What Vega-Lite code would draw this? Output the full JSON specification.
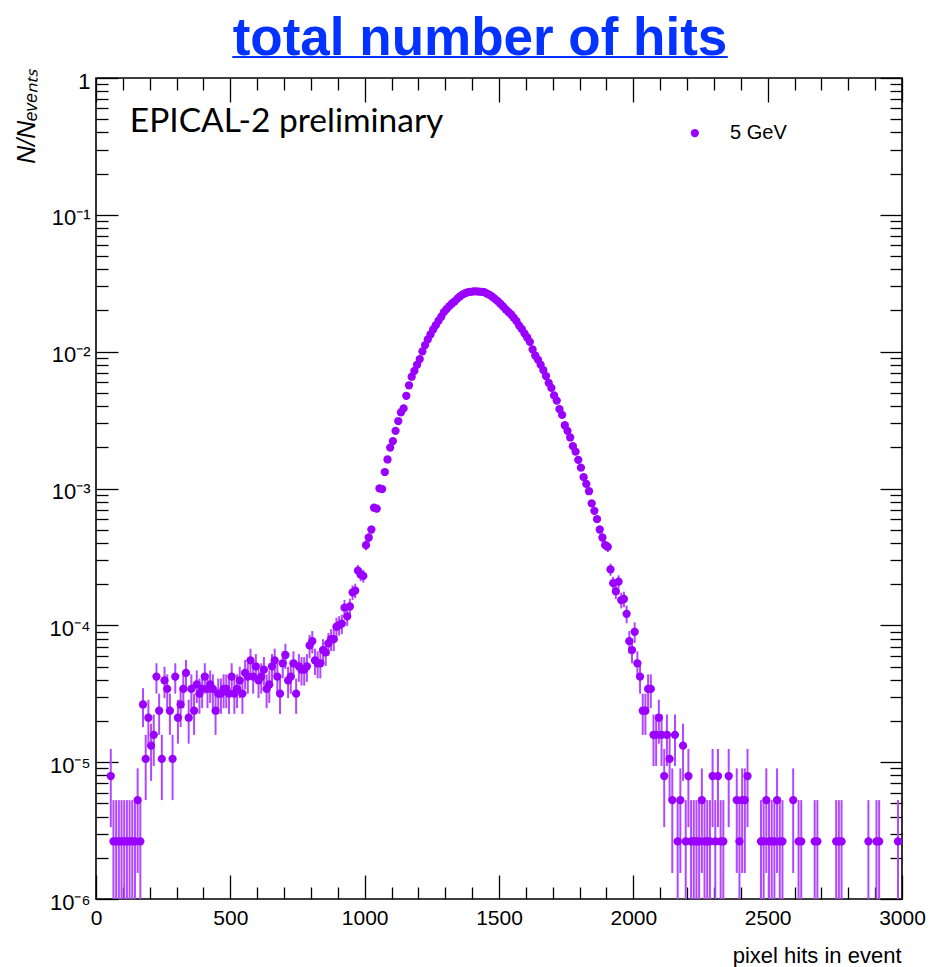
{
  "$schema": "https://vega.github.io/schema/vega-lite/v6.json",
  "width": 806,
  "height": 821,
  "autosize": "none",
  "padding": {"left": 96, "top": 78, "right": 28, "bottom": 68},
  "background": "white",
  "title": {
    "text": "total number of hits",
    "subtitle": "_________________",
    "anchor": "middle",
    "frame": "group",
    "dx": -19,
    "offset": -1,
    "font": "Liberation Sans",
    "fontSize": 53,
    "fontWeight": "bold",
    "color": "#0433ff",
    "subtitleFont": "Liberation Sans",
    "subtitleFontSize": 52.3,
    "subtitleFontWeight": "bold",
    "subtitleColor": "#0433ff",
    "subtitlePadding": -55
  },
  "config": {
    "view": {"stroke": "black", "strokeWidth": 1.6},
    "axis": {
      "grid": false,
      "domain": false,
      "tickColor": "black",
      "tickWidth": 1.3,
      "labelFont": "Liberation Sans",
      "labelFontSize": 21,
      "labelColor": "black",
      "labelFlush": false,
      "labelOverlap": false,
      "labelBound": false,
      "titleFont": "Liberation Sans",
      "titleColor": "black",
      "titleFontWeight": "normal"
    }
  },
  "data": {
    "values": [
      {"x": 55, "y": 7.92e-6, "lo": 3.35e-6, "hi": 1.249e-5},
      {"x": 65, "y": 2.64e-6, "lo": 0, "hi": 5.28e-6},
      {"x": 75, "y": 2.64e-6, "lo": 0, "hi": 5.28e-6},
      {"x": 85, "y": 2.64e-6, "lo": 0, "hi": 5.28e-6},
      {"x": 95, "y": 2.64e-6, "lo": 0, "hi": 5.28e-6},
      {"x": 105, "y": 2.64e-6, "lo": 0, "hi": 5.28e-6},
      {"x": 115, "y": 2.64e-6, "lo": 0, "hi": 5.28e-6},
      {"x": 125, "y": 2.64e-6, "lo": 0, "hi": 5.28e-6},
      {"x": 135, "y": 2.64e-6, "lo": 0, "hi": 5.28e-6},
      {"x": 145, "y": 2.64e-6, "lo": 0, "hi": 5.28e-6},
      {"x": 155, "y": 5.28e-6, "lo": 1.55e-6, "hi": 9.01e-6},
      {"x": 165, "y": 2.64e-6, "lo": 0, "hi": 5.28e-6},
      {"x": 175, "y": 2.64e-5, "lo": 1.805e-5, "hi": 3.475e-5},
      {"x": 185, "y": 1.056e-5, "lo": 5.28e-6, "hi": 1.584e-5},
      {"x": 195, "y": 2.112e-5, "lo": 1.365e-5, "hi": 2.859e-5},
      {"x": 205, "y": 1.32e-5, "lo": 7.3e-6, "hi": 1.91e-5},
      {"x": 215, "y": 1.584e-5, "lo": 9.37e-6, "hi": 2.231e-5},
      {"x": 225, "y": 4.224e-5, "lo": 3.168e-5, "hi": 5.28e-5},
      {"x": 235, "y": 2.376e-5, "lo": 1.584e-5, "hi": 3.168e-5},
      {"x": 245, "y": 1.056e-5, "lo": 5.28e-6, "hi": 1.584e-5},
      {"x": 255, "y": 3.96e-5, "lo": 2.938e-5, "hi": 4.982e-5},
      {"x": 265, "y": 3.432e-5, "lo": 2.48e-5, "hi": 4.384e-5},
      {"x": 275, "y": 2.376e-5, "lo": 1.584e-5, "hi": 3.168e-5},
      {"x": 285, "y": 1.056e-5, "lo": 5.28e-6, "hi": 1.584e-5},
      {"x": 295, "y": 4.224e-5, "lo": 3.168e-5, "hi": 5.28e-5},
      {"x": 305, "y": 2.112e-5, "lo": 1.365e-5, "hi": 2.859e-5},
      {"x": 315, "y": 2.64e-5, "lo": 1.805e-5, "hi": 3.475e-5},
      {"x": 325, "y": 3.432e-5, "lo": 2.48e-5, "hi": 4.384e-5},
      {"x": 335, "y": 4.488e-5, "lo": 3.4e-5, "hi": 5.576e-5},
      {"x": 345, "y": 2.112e-5, "lo": 1.365e-5, "hi": 2.859e-5},
      {"x": 355, "y": 3.432e-5, "lo": 2.48e-5, "hi": 4.384e-5},
      {"x": 365, "y": 2.376e-5, "lo": 1.584e-5, "hi": 3.168e-5},
      {"x": 375, "y": 3.696e-5, "lo": 2.708e-5, "hi": 4.684e-5},
      {"x": 385, "y": 3.168e-5, "lo": 2.253e-5, "hi": 4.083e-5},
      {"x": 395, "y": 3.432e-5, "lo": 2.48e-5, "hi": 4.384e-5},
      {"x": 405, "y": 4.224e-5, "lo": 3.168e-5, "hi": 5.28e-5},
      {"x": 415, "y": 3.432e-5, "lo": 2.48e-5, "hi": 4.384e-5},
      {"x": 425, "y": 3.696e-5, "lo": 2.708e-5, "hi": 4.684e-5},
      {"x": 435, "y": 3.432e-5, "lo": 2.48e-5, "hi": 4.384e-5},
      {"x": 445, "y": 2.376e-5, "lo": 1.584e-5, "hi": 3.168e-5},
      {"x": 455, "y": 3.168e-5, "lo": 2.253e-5, "hi": 4.083e-5},
      {"x": 465, "y": 3.168e-5, "lo": 2.253e-5, "hi": 4.083e-5},
      {"x": 475, "y": 3.432e-5, "lo": 2.48e-5, "hi": 4.384e-5},
      {"x": 485, "y": 3.432e-5, "lo": 2.48e-5, "hi": 4.384e-5},
      {"x": 495, "y": 3.168e-5, "lo": 2.253e-5, "hi": 4.083e-5},
      {"x": 505, "y": 4.224e-5, "lo": 3.168e-5, "hi": 5.28e-5},
      {"x": 515, "y": 3.168e-5, "lo": 2.253e-5, "hi": 4.083e-5},
      {"x": 525, "y": 3.432e-5, "lo": 2.48e-5, "hi": 4.384e-5},
      {"x": 535, "y": 3.96e-5, "lo": 2.938e-5, "hi": 4.982e-5},
      {"x": 545, "y": 3.168e-5, "lo": 2.253e-5, "hi": 4.083e-5},
      {"x": 555, "y": 4.488e-5, "lo": 3.4e-5, "hi": 5.576e-5},
      {"x": 565, "y": 4.224e-5, "lo": 3.168e-5, "hi": 5.28e-5},
      {"x": 575, "y": 5.544e-5, "lo": 4.334e-5, "hi": 6.754e-5},
      {"x": 585, "y": 4.224e-5, "lo": 3.168e-5, "hi": 5.28e-5},
      {"x": 595, "y": 5.016e-5, "lo": 3.865e-5, "hi": 6.167e-5},
      {"x": 605, "y": 3.96e-5, "lo": 2.938e-5, "hi": 4.982e-5},
      {"x": 615, "y": 4.224e-5, "lo": 3.168e-5, "hi": 5.28e-5},
      {"x": 625, "y": 4.752e-5, "lo": 3.632e-5, "hi": 5.872e-5},
      {"x": 635, "y": 3.432e-5, "lo": 2.48e-5, "hi": 4.384e-5},
      {"x": 645, "y": 3.696e-5, "lo": 2.708e-5, "hi": 4.684e-5},
      {"x": 655, "y": 5.016e-5, "lo": 3.865e-5, "hi": 6.167e-5},
      {"x": 665, "y": 5.544e-5, "lo": 4.334e-5, "hi": 6.754e-5},
      {"x": 675, "y": 4.224e-5, "lo": 3.168e-5, "hi": 5.28e-5},
      {"x": 685, "y": 3.168e-5, "lo": 2.253e-5, "hi": 4.083e-5},
      {"x": 695, "y": 5.28e-5, "lo": 4.099e-5, "hi": 6.461e-5},
      {"x": 705, "y": 6.072e-5, "lo": 4.806e-5, "hi": 7.338e-5},
      {"x": 715, "y": 3.96e-5, "lo": 2.938e-5, "hi": 4.982e-5},
      {"x": 725, "y": 4.224e-5, "lo": 3.168e-5, "hi": 5.28e-5},
      {"x": 735, "y": 5.28e-5, "lo": 4.099e-5, "hi": 6.461e-5},
      {"x": 745, "y": 3.168e-5, "lo": 2.253e-5, "hi": 4.083e-5},
      {"x": 755, "y": 5.016e-5, "lo": 3.865e-5, "hi": 6.167e-5},
      {"x": 765, "y": 4.752e-5, "lo": 3.632e-5, "hi": 5.872e-5},
      {"x": 775, "y": 4.752e-5, "lo": 3.632e-5, "hi": 5.872e-5},
      {"x": 785, "y": 5.016e-5, "lo": 3.865e-5, "hi": 6.167e-5},
      {"x": 795, "y": 7.128e-5, "lo": 5.756e-5, "hi": 8.5e-5},
      {"x": 805, "y": 7.656e-5, "lo": 6.234e-5, "hi": 9.078e-5},
      {"x": 815, "y": 5.544e-5, "lo": 4.334e-5, "hi": 6.754e-5},
      {"x": 825, "y": 5.28e-5, "lo": 4.099e-5, "hi": 6.461e-5},
      {"x": 835, "y": 5.28e-5, "lo": 4.099e-5, "hi": 6.461e-5},
      {"x": 845, "y": 6.6e-5, "lo": 5.28e-5, "hi": 7.92e-5},
      {"x": 855, "y": 6.336e-5, "lo": 5.043e-5, "hi": 7.629e-5},
      {"x": 865, "y": 7.392e-5, "lo": 5.995e-5, "hi": 8.789e-5},
      {"x": 875, "y": 7.92e-5, "lo": 6.474e-5, "hi": 9.366e-5},
      {"x": 885, "y": 7.92e-5, "lo": 6.474e-5, "hi": 9.366e-5},
      {"x": 895, "y": 9.768e-5, "lo": 8.162e-5, "hi": 1.137e-4},
      {"x": 905, "y": 1.003e-4, "lo": 8.405e-5, "hi": 1.166e-4},
      {"x": 915, "y": 1.03e-4, "lo": 8.647e-5, "hi": 1.195e-4},
      {"x": 925, "y": 1.346e-4, "lo": 1.158e-4, "hi": 1.535e-4},
      {"x": 935, "y": 1.162e-4, "lo": 9.865e-5, "hi": 1.337e-4},
      {"x": 945, "y": 1.373e-4, "lo": 1.182e-4, "hi": 1.563e-4},
      {"x": 955, "y": 1.742e-4, "lo": 1.528e-4, "hi": 1.957e-4},
      {"x": 965, "y": 1.795e-4, "lo": 1.578e-4, "hi": 2.013e-4},
      {"x": 975, "y": 2.508e-4, "lo": 2.251e-4, "hi": 2.765e-4},
      {"x": 985, "y": 2.35e-4, "lo": 2.101e-4, "hi": 2.599e-4},
      {"x": 995, "y": 2.297e-4, "lo": 2.051e-4, "hi": 2.543e-4},
      {"x": 1005, "y": 3.854e-4, "lo": 3.535e-4, "hi": 4.173e-4},
      {"x": 1015, "y": 4.382e-4, "lo": 4.042e-4, "hi": 4.723e-4},
      {"x": 1025, "y": 5.016e-4, "lo": 4.652e-4, "hi": 5.38e-4},
      {"x": 1035, "y": 7.234e-4, "lo": 6.797e-4, "hi": 7.671e-4},
      {"x": 1045, "y": 7.128e-4, "lo": 6.694e-4, "hi": 7.562e-4},
      {"x": 1055, "y": 1.001e-3, "lo": 9.492e-4, "hi": 1.052e-3},
      {"x": 1065, "y": 9.9e-4, "lo": 9.389e-4, "hi": 1.041e-3},
      {"x": 1075, "y": 1.32e-3},
      {"x": 1085, "y": 1.63e-3},
      {"x": 1095, "y": 1.99e-3},
      {"x": 1105, "y": 2.22e-3},
      {"x": 1115, "y": 2.64e-3},
      {"x": 1125, "y": 3.11e-3},
      {"x": 1135, "y": 3.6e-3},
      {"x": 1145, "y": 3.85e-3},
      {"x": 1155, "y": 4.76e-3},
      {"x": 1165, "y": 5.68e-3},
      {"x": 1175, "y": 6.56e-3},
      {"x": 1185, "y": 7.24e-3},
      {"x": 1195, "y": 8.02e-3},
      {"x": 1205, "y": 8.83e-3},
      {"x": 1215, "y": 1.005e-2},
      {"x": 1225, "y": 1.117e-2},
      {"x": 1235, "y": 1.23e-2},
      {"x": 1245, "y": 1.337e-2},
      {"x": 1255, "y": 1.455e-2},
      {"x": 1265, "y": 1.563e-2},
      {"x": 1275, "y": 1.683e-2},
      {"x": 1285, "y": 1.8e-2},
      {"x": 1295, "y": 1.945e-2},
      {"x": 1305, "y": 2.05e-2},
      {"x": 1315, "y": 2.15e-2},
      {"x": 1325, "y": 2.25e-2},
      {"x": 1335, "y": 2.33e-2},
      {"x": 1345, "y": 2.44e-2},
      {"x": 1355, "y": 2.54e-2},
      {"x": 1365, "y": 2.62e-2},
      {"x": 1375, "y": 2.68e-2},
      {"x": 1385, "y": 2.72e-2},
      {"x": 1395, "y": 2.74e-2},
      {"x": 1405, "y": 2.76e-2},
      {"x": 1415, "y": 2.76e-2},
      {"x": 1425, "y": 2.75e-2},
      {"x": 1435, "y": 2.74e-2},
      {"x": 1445, "y": 2.72e-2},
      {"x": 1455, "y": 2.66e-2},
      {"x": 1465, "y": 2.6e-2},
      {"x": 1475, "y": 2.52e-2},
      {"x": 1485, "y": 2.43e-2},
      {"x": 1495, "y": 2.34e-2},
      {"x": 1505, "y": 2.24e-2},
      {"x": 1515, "y": 2.14e-2},
      {"x": 1525, "y": 2.04e-2},
      {"x": 1535, "y": 1.95e-2},
      {"x": 1545, "y": 1.87e-2},
      {"x": 1555, "y": 1.77e-2},
      {"x": 1565, "y": 1.67e-2},
      {"x": 1575, "y": 1.55e-2},
      {"x": 1585, "y": 1.46e-2},
      {"x": 1595, "y": 1.36e-2},
      {"x": 1605, "y": 1.27e-2},
      {"x": 1615, "y": 1.18e-2},
      {"x": 1625, "y": 1.04e-2},
      {"x": 1635, "y": 9.38e-3},
      {"x": 1645, "y": 8.75e-3},
      {"x": 1655, "y": 8.04e-3},
      {"x": 1665, "y": 7.33e-3},
      {"x": 1675, "y": 6.64e-3},
      {"x": 1685, "y": 5.92e-3},
      {"x": 1695, "y": 5.43e-3},
      {"x": 1705, "y": 4.79e-3},
      {"x": 1715, "y": 4.39e-3},
      {"x": 1725, "y": 3.8e-3},
      {"x": 1735, "y": 3.45e-3},
      {"x": 1745, "y": 2.9e-3},
      {"x": 1755, "y": 2.64e-3},
      {"x": 1765, "y": 2.36e-3},
      {"x": 1775, "y": 2.04e-3},
      {"x": 1785, "y": 1.86e-3},
      {"x": 1795, "y": 1.62e-3},
      {"x": 1805, "y": 1.42e-3},
      {"x": 1815, "y": 1.21e-3},
      {"x": 1825, "y": 1.08e-3},
      {"x": 1835, "y": 9.55e-4},
      {"x": 1845, "y": 7.78e-4},
      {"x": 1855, "y": 6.87e-4},
      {"x": 1865, "y": 5.97e-4},
      {"x": 1875, "y": 5.016e-4, "lo": 4.652e-4, "hi": 5.38e-4},
      {"x": 1885, "y": 4.382e-4, "lo": 4.042e-4, "hi": 4.723e-4},
      {"x": 1895, "y": 3.854e-4, "lo": 3.535e-4, "hi": 4.173e-4},
      {"x": 1905, "y": 3.749e-4, "lo": 3.434e-4, "hi": 4.063e-4},
      {"x": 1915, "y": 2.561e-4, "lo": 2.301e-4, "hi": 2.821e-4},
      {"x": 1925, "y": 2.033e-4, "lo": 1.801e-4, "hi": 2.265e-4},
      {"x": 1935, "y": 1.769e-4, "lo": 1.553e-4, "hi": 1.985e-4},
      {"x": 1945, "y": 2.086e-4, "lo": 1.851e-4, "hi": 2.32e-4},
      {"x": 1955, "y": 1.531e-4, "lo": 1.33e-4, "hi": 1.732e-4},
      {"x": 1965, "y": 1.558e-4, "lo": 1.355e-4, "hi": 1.76e-4},
      {"x": 1975, "y": 1.214e-4, "lo": 1.035e-4, "hi": 1.394e-4},
      {"x": 1985, "y": 7.656e-5, "lo": 6.234e-5, "hi": 9.078e-5},
      {"x": 1995, "y": 6.6e-5, "lo": 5.28e-5, "hi": 7.92e-5},
      {"x": 2005, "y": 8.976e-5, "lo": 7.437e-5, "hi": 1.052e-4},
      {"x": 2015, "y": 5.28e-5, "lo": 4.099e-5, "hi": 6.461e-5},
      {"x": 2025, "y": 4.224e-5, "lo": 3.168e-5, "hi": 5.28e-5},
      {"x": 2035, "y": 2.376e-5, "lo": 1.584e-5, "hi": 3.168e-5},
      {"x": 2045, "y": 2.376e-5, "lo": 1.584e-5, "hi": 3.168e-5},
      {"x": 2055, "y": 3.432e-5, "lo": 2.48e-5, "hi": 4.384e-5},
      {"x": 2065, "y": 3.432e-5, "lo": 2.48e-5, "hi": 4.384e-5},
      {"x": 2075, "y": 1.584e-5, "lo": 9.37e-6, "hi": 2.231e-5},
      {"x": 2085, "y": 1.584e-5, "lo": 9.37e-6, "hi": 2.231e-5},
      {"x": 2095, "y": 2.112e-5, "lo": 1.365e-5, "hi": 2.859e-5},
      {"x": 2105, "y": 1.584e-5, "lo": 9.37e-6, "hi": 2.231e-5},
      {"x": 2115, "y": 7.92e-6, "lo": 3.35e-6, "hi": 1.249e-5},
      {"x": 2125, "y": 1.584e-5, "lo": 9.37e-6, "hi": 2.231e-5},
      {"x": 2135, "y": 1.056e-5, "lo": 5.28e-6, "hi": 1.584e-5},
      {"x": 2145, "y": 5.28e-6, "lo": 1.55e-6, "hi": 9.01e-6},
      {"x": 2155, "y": 1.584e-5, "lo": 9.37e-6, "hi": 2.231e-5},
      {"x": 2165, "y": 2.64e-6, "lo": 0, "hi": 5.28e-6},
      {"x": 2175, "y": 5.28e-6, "lo": 1.55e-6, "hi": 9.01e-6},
      {"x": 2185, "y": 1.32e-5, "lo": 7.3e-6, "hi": 1.91e-5},
      {"x": 2195, "y": 2.64e-6, "lo": 0, "hi": 5.28e-6},
      {"x": 2205, "y": 7.92e-6, "lo": 3.35e-6, "hi": 1.249e-5},
      {"x": 2215, "y": 2.64e-6, "lo": 0, "hi": 5.28e-6},
      {"x": 2225, "y": 2.64e-6, "lo": 0, "hi": 5.28e-6},
      {"x": 2235, "y": 2.64e-6, "lo": 0, "hi": 5.28e-6},
      {"x": 2245, "y": 2.64e-6, "lo": 0, "hi": 5.28e-6},
      {"x": 2255, "y": 5.28e-6, "lo": 1.55e-6, "hi": 9.01e-6},
      {"x": 2265, "y": 2.64e-6, "lo": 0, "hi": 5.28e-6},
      {"x": 2275, "y": 2.64e-6, "lo": 0, "hi": 5.28e-6},
      {"x": 2285, "y": 2.64e-6, "lo": 0, "hi": 5.28e-6},
      {"x": 2295, "y": 7.92e-6, "lo": 3.35e-6, "hi": 1.249e-5},
      {"x": 2305, "y": 2.64e-6, "lo": 0, "hi": 5.28e-6},
      {"x": 2315, "y": 7.92e-6, "lo": 3.35e-6, "hi": 1.249e-5},
      {"x": 2325, "y": 2.64e-6, "lo": 0, "hi": 5.28e-6},
      {"x": 2335, "y": 2.64e-6, "lo": 0, "hi": 5.28e-6},
      {"x": 2355, "y": 7.92e-6, "lo": 3.35e-6, "hi": 1.249e-5},
      {"x": 2385, "y": 5.28e-6, "lo": 1.55e-6, "hi": 9.01e-6},
      {"x": 2395, "y": 2.64e-6, "lo": 0, "hi": 5.28e-6},
      {"x": 2405, "y": 5.28e-6, "lo": 1.55e-6, "hi": 9.01e-6},
      {"x": 2415, "y": 5.28e-6, "lo": 1.55e-6, "hi": 9.01e-6},
      {"x": 2425, "y": 7.92e-6, "lo": 3.35e-6, "hi": 1.249e-5},
      {"x": 2475, "y": 2.64e-6, "lo": 0, "hi": 5.28e-6},
      {"x": 2485, "y": 2.64e-6, "lo": 0, "hi": 5.28e-6},
      {"x": 2495, "y": 5.28e-6, "lo": 1.55e-6, "hi": 9.01e-6},
      {"x": 2505, "y": 2.64e-6, "lo": 0, "hi": 5.28e-6},
      {"x": 2515, "y": 2.64e-6, "lo": 0, "hi": 5.28e-6},
      {"x": 2525, "y": 2.64e-6, "lo": 0, "hi": 5.28e-6},
      {"x": 2535, "y": 5.28e-6, "lo": 1.55e-6, "hi": 9.01e-6},
      {"x": 2545, "y": 2.64e-6, "lo": 0, "hi": 5.28e-6},
      {"x": 2555, "y": 2.64e-6, "lo": 0, "hi": 5.28e-6},
      {"x": 2595, "y": 5.28e-6, "lo": 1.55e-6, "hi": 9.01e-6},
      {"x": 2615, "y": 2.64e-6, "lo": 0, "hi": 5.28e-6},
      {"x": 2625, "y": 2.64e-6, "lo": 0, "hi": 5.28e-6},
      {"x": 2675, "y": 2.64e-6, "lo": 0, "hi": 5.28e-6},
      {"x": 2685, "y": 2.64e-6, "lo": 0, "hi": 5.28e-6},
      {"x": 2755, "y": 2.64e-6, "lo": 0, "hi": 5.28e-6},
      {"x": 2765, "y": 2.64e-6, "lo": 0, "hi": 5.28e-6},
      {"x": 2775, "y": 2.64e-6, "lo": 0, "hi": 5.28e-6},
      {"x": 2875, "y": 2.64e-6, "lo": 0, "hi": 5.28e-6},
      {"x": 2905, "y": 2.64e-6, "lo": 0, "hi": 5.28e-6},
      {"x": 2915, "y": 2.64e-6, "lo": 0, "hi": 5.28e-6},
      {"x": 2985, "y": 2.64e-6, "lo": 0, "hi": 5.28e-6}
    ]
  },
  "resolve": {"axis": {"x": "independent", "y": "independent"}},
  "layer": [
    {
      "transform": [{"filter": "isValid(datum.lo)"}],
      "mark": {"type": "rule", "color": "#b048ff", "strokeWidth": 2},
      "encoding": {
        "x": {
          "field": "x", "type": "quantitative",
          "scale": {"domain": [0, 3000], "nice": false, "zero": false},
          "axis": {
            "orient": "bottom",
            "values": [0, 500, 1000, 1500, 2000, 2500, 3000],
            "tickSize": -24,
            "labelPadding": 32,
            "format": "d",
            "title": "pixel hits in event",
            "titleFontSize": 22,
            "titleAnchor": null,
            "titleAlign": "right",
            "titleBaseline": "alphabetic",
            "titleX": 805,
            "titleY": 63
          }
        },
        "y": {
          "field": "lo", "type": "quantitative",
          "scale": {"type": "log", "domain": [1e-6, 1], "clamp": true, "nice": false},
          "axis": {
            "orient": "left",
            "values": [1e-6, 1e-5, 1e-4, 1e-3, 1e-2, 1e-1, 1],
            "tickSize": -22,
            "labelPadding": 28,
            "labelOffset": 3,
            "labelFontSize": 22,
            "labelExpr": "datum.value >= 1 ? '1' : '10⁻' + ['', '¹', '²', '³', '⁴', '⁵', '⁶'][round(-log(datum.value) / LN10)]",
            "title": "N/Nₑᵥₑₙₜₛ",
            "titleFontSize": 25,
            "titleFontStyle": "italic",
            "titleAnchor": null,
            "titleAngle": -90,
            "titleAlign": "right",
            "titleBaseline": "alphabetic",
            "titleX": -62,
            "titleY": -10
          }
        },
        "y2": {"field": "hi"}
      }
    },
    {
      "mark": {"type": "point", "filled": true, "shape": "circle", "size": 68, "color": "#9a00ff", "opacity": 1},
      "encoding": {
        "x": {
          "field": "x", "type": "quantitative",
          "scale": {"domain": [0, 3000], "nice": false, "zero": false},
          "axis": {
            "orient": "bottom",
            "values": [100, 200, 300, 400, 600, 700, 800, 900, 1100, 1200, 1300, 1400, 1600, 1700, 1800, 1900, 2100, 2200, 2300, 2400, 2600, 2700, 2800, 2900],
            "tickSize": -12,
            "labels": false,
            "title": null
          }
        },
        "y": {
          "field": "y", "type": "quantitative",
          "scale": {"type": "log", "domain": [1e-6, 1], "clamp": true, "nice": false},
          "axis": {
            "orient": "left",
            "values": [2e-6, 3e-6, 4e-6, 5e-6, 6e-6, 7e-6, 8e-6, 9e-6, 2e-5, 3e-5, 4e-5, 5e-5, 6e-5, 7e-5, 8e-5, 9e-5, 2e-4, 3e-4, 4e-4, 5e-4, 6e-4, 7e-4, 8e-4, 9e-4, 2e-3, 3e-3, 4e-3, 5e-3, 6e-3, 7e-3, 8e-3, 9e-3, 2e-2, 3e-2, 4e-2, 5e-2, 6e-2, 7e-2, 8e-2, 9e-2, 0.2, 0.3, 0.4, 0.5, 0.6, 0.7, 0.8, 0.9],
            "tickSize": -12,
            "labels": false,
            "title": null
          }
        }
      }
    },
    {
      "data": {"values": [{}]},
      "mark": {"type": "text", "text": "EPICAL-2 preliminary", "font": "Lato", "fontSize": 33.5, "align": "left", "baseline": "alphabetic", "color": "black"},
      "encoding": {
        "x": {
          "datum": 126, "type": "quantitative",
          "scale": {"domain": [0, 3000], "nice": false, "zero": false},
          "axis": {
            "orient": "top",
            "values": [0, 500, 1000, 1500, 2000, 2500, 3000],
            "tickSize": -24,
            "labels": false,
            "title": null
          }
        },
        "y": {
          "datum": 0.403, "type": "quantitative",
          "scale": {"type": "log", "domain": [1e-6, 1], "clamp": true, "nice": false},
          "axis": {
            "orient": "right",
            "values": [1e-6, 1e-5, 1e-4, 1e-3, 1e-2, 1e-1, 1],
            "tickSize": -22,
            "labels": false,
            "title": null
          }
        }
      }
    },
    {
      "data": {"values": [{}]},
      "mark": {"type": "point", "filled": true, "shape": "circle", "size": 68, "color": "#9a00ff", "opacity": 1},
      "encoding": {
        "x": {
          "datum": 2229, "type": "quantitative",
          "scale": {"domain": [0, 3000], "nice": false, "zero": false},
          "axis": {
            "orient": "top",
            "values": [100, 200, 300, 400, 600, 700, 800, 900, 1100, 1200, 1300, 1400, 1600, 1700, 1800, 1900, 2100, 2200, 2300, 2400, 2600, 2700, 2800, 2900],
            "tickSize": -12,
            "labels": false,
            "title": null
          }
        },
        "y": {
          "datum": 0.396, "type": "quantitative",
          "scale": {"type": "log", "domain": [1e-6, 1], "clamp": true, "nice": false},
          "axis": {
            "orient": "right",
            "values": [2e-6, 3e-6, 4e-6, 5e-6, 6e-6, 7e-6, 8e-6, 9e-6, 2e-5, 3e-5, 4e-5, 5e-5, 6e-5, 7e-5, 8e-5, 9e-5, 2e-4, 3e-4, 4e-4, 5e-4, 6e-4, 7e-4, 8e-4, 9e-4, 2e-3, 3e-3, 4e-3, 5e-3, 6e-3, 7e-3, 8e-3, 9e-3, 2e-2, 3e-2, 4e-2, 5e-2, 6e-2, 7e-2, 8e-2, 9e-2, 0.2, 0.3, 0.4, 0.5, 0.6, 0.7, 0.8, 0.9],
            "tickSize": -12,
            "labels": false,
            "title": null
          }
        }
      }
    },
    {
      "data": {"values": [{}]},
      "mark": {"type": "text", "text": "5 GeV", "font": "Liberation Sans", "fontSize": 20, "align": "left", "baseline": "middle", "color": "black"},
      "encoding": {
        "x": {
          "datum": 2360, "type": "quantitative",
          "scale": {"domain": [0, 3000], "nice": false, "zero": false},
          "axis": null
        },
        "y": {
          "datum": 0.396, "type": "quantitative",
          "scale": {"type": "log", "domain": [1e-6, 1], "clamp": true, "nice": false},
          "axis": null
        }
      }
    }
  ]
}
